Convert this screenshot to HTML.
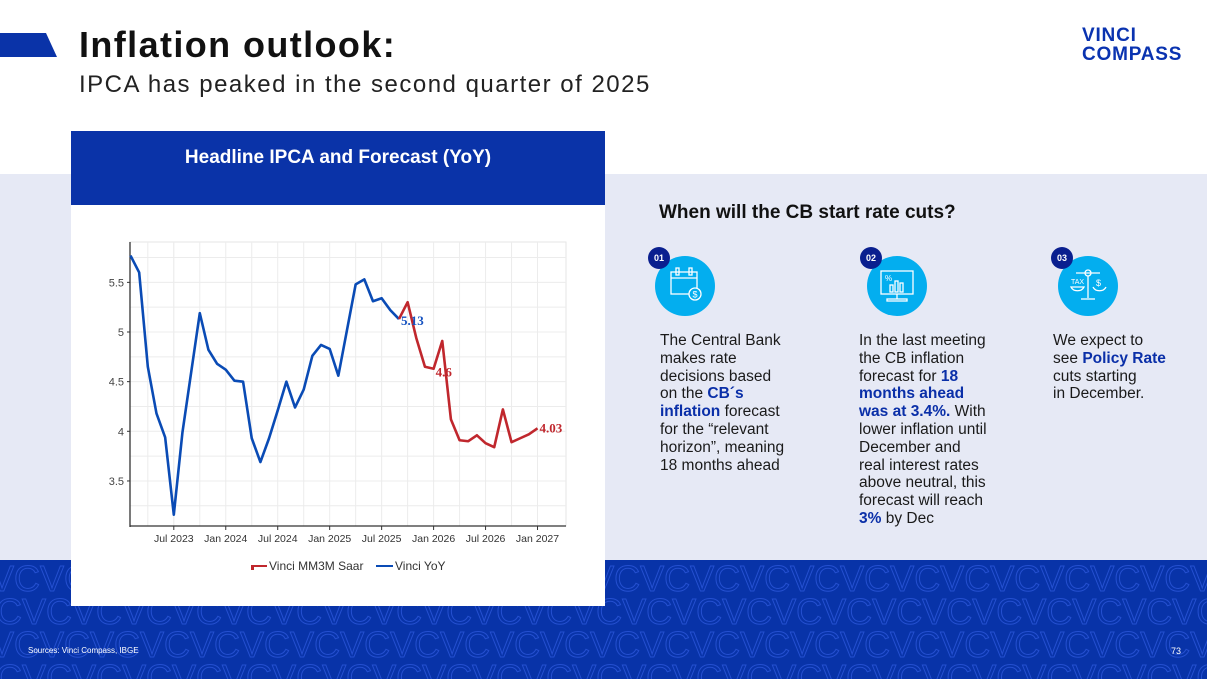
<!DOCTYPE html>
<html><head><meta charset="utf-8"><style>
*{margin:0;padding:0;box-sizing:border-box}
body{width:1207px;height:679px;position:relative;overflow:hidden;background:#fff;font-family:"Liberation Sans",sans-serif}
.abs{position:absolute}
.txt{font-size:15.5px;line-height:17.8px;color:#1a1a1a;white-space:nowrap}
.txt b{color:#0a2fa8}
.badge{position:absolute;width:22px;height:22px;border-radius:50%;background:#0a1f8f;color:#fff;font-size:9px;font-weight:bold;text-align:center;line-height:22px}
.circ{position:absolute;width:60px;height:60px;border-radius:50%;background:#03aeef}
</style></head><body>
<div class="abs" style="left:0;top:33px;width:57px;height:24px;background:#0a33a8;clip-path:polygon(0 0,46px 0,57px 24px,0 24px)"></div>
<div class="abs" style="left:79px;top:24px;font-size:36px;font-weight:bold;color:#111;letter-spacing:1.4px">Inflation outlook:</div>
<div class="abs" style="left:79px;top:71px;font-size:24px;color:#222;letter-spacing:1.5px">IPCA has peaked in the second quarter of 2025</div>
<div class="abs" style="left:1082px;top:26px;font-size:19px;font-weight:bold;color:#0a33b0;line-height:19px;letter-spacing:0.8px">VINCI<br>COMPASS</div>
<div class="abs" style="left:0;top:174px;width:1207px;height:386px;background:#e6e9f5"></div>
<svg class="abs" style="left:0;top:560px" width="1207" height="119">
<rect width="1207" height="119" fill="#0833a8"/>
<g fill="none" stroke="#2550d0" stroke-width="1" font-size="36" font-family="Liberation Sans">
<text x="-10" y="31">VCVCVCVCVCVCVCVCVCVCVCVCVCVCVCVCVCVCVCVCVCVCVCVCVCVCVC</text>
<text x="-28" y="64">VCVCVCVCVCVCVCVCVCVCVCVCVCVCVCVCVCVCVCVCVCVCVCVCVCVCVC</text>
<text x="-10" y="97">VCVCVCVCVCVCVCVCVCVCVCVCVCVCVCVCVCVCVCVCVCVCVCVCVCVCVC</text>
<text x="-28" y="130">VCVCVCVCVCVCVCVCVCVCVCVCVCVCVCVCVCVCVCVCVCVCVCVCVCVCVC</text>
</g></svg>
<div class="abs" style="left:28px;top:646px;font-size:8px;color:#fff">Sources: Vinci Compass, IBGE</div>
<div class="abs" style="left:1171px;top:646px;font-size:9px;color:#fff">73</div>

<div class="abs" style="left:71px;top:131px;width:534px;height:475px;background:#fff"></div>
<div class="abs" style="left:71px;top:131px;width:534px;height:74px;background:#0a33a8;color:#fff;font-size:19px;font-weight:bold;text-align:center;padding-top:16px">Headline IPCA and Forecast (YoY)</div>
<svg id="chart" class="abs" style="left:71px;top:205px" width="534" height="401"></svg>

<div class="abs" style="left:659px;top:202px;font-size:19px;font-weight:bold;color:#111">When will the CB start rate cuts?</div>
<div class="circ" style="left:655px;top:256px"><svg width="60" height="60" fill="none" stroke="#fff" stroke-width="1.3"><rect x="16" y="16" width="26" height="22"/><line x1="16" y1="22" x2="42" y2="22"/><rect x="21" y="12" width="3" height="7"/><rect x="34" y="12" width="3" height="7"/><circle cx="40" cy="38" r="6" fill="#03aeef"/><text x="37.5" y="41.5" font-size="9" fill="#fff" stroke="none">$</text></svg></div>
<div class="circ" style="left:867px;top:256px"><svg width="60" height="60" fill="none" stroke="#fff" stroke-width="1.3"><rect x="14" y="15" width="32" height="23"/><line x1="30" y1="38" x2="30" y2="43"/><rect x="20" y="43" width="20" height="2"/><text x="18" y="25" font-size="8" fill="#fff" stroke="none">%</text><rect x="23" y="29" width="3" height="7"/><rect x="28" y="25" width="3" height="11"/><rect x="33" y="27" width="3" height="9"/></svg></div>
<div class="circ" style="left:1058px;top:256px"><svg width="60" height="60" fill="none" stroke="#fff" stroke-width="1.3"><line x1="18" y1="17" x2="42" y2="17"/><circle cx="30" cy="17" r="3"/><line x1="30" y1="20" x2="30" y2="42"/><line x1="23" y1="43" x2="37" y2="43"/><path d="M13 31 a7 6 0 0 0 13 0 z"/><path d="M35 31 a7 6 0 0 0 13 0"/><text x="13" y="28" font-size="7" fill="#fff" stroke="none">TAX</text><text x="38" y="30" font-size="9" fill="#fff" stroke="none">$</text></svg></div>
<div class="badge" style="left:648px;top:247px">01</div>
<div class="badge" style="left:860px;top:247px">02</div>
<div class="badge" style="left:1051px;top:247px">03</div>
<div class="abs txt" style="left:660px;top:332px">The Central Bank<br>makes rate<br>decisions based<br>on the <b>CB´s</b><br><b>inflation</b> forecast<br>for the “relevant<br>horizon”, meaning<br>18 months ahead</div>
<div class="abs txt" style="left:859px;top:332px">In the last meeting<br>the CB inflation<br>forecast for <b>18</b><br><b>months ahead</b><br><b>was at 3.4%.</b> With<br>lower inflation until<br>December and<br>real interest rates<br>above neutral, this<br>forecast will reach<br><b>3%</b> by Dec</div>
<div class="abs txt" style="left:1053px;top:332px">We expect to<br>see <b>Policy Rate</b><br>cuts starting<br>in December.</div>

<script>
const yoyValues=[5.77,5.60,4.65,4.18,3.94,3.16,3.99,4.59,5.19,4.82,4.68,4.62,4.51,4.50,3.93,3.69,3.93,4.21,4.50,4.24,4.42,4.76,4.87,4.83,4.56,5.02,5.48,5.53,5.31,5.34,5.22,5.13];
const forecastValues=[5.13,5.30,4.94,4.65,4.63,4.91,4.12,3.91,3.90,3.96,3.88,3.84,4.22,3.89,3.93,3.97,4.03];
const forecastStart=31;
const yTicks=[3.5,4,4.5,5,5.5];
const xTickLabels=["Jul 2023","Jan 2024","Jul 2024","Jan 2025","Jul 2025","Jan 2026","Jul 2026","Jan 2027"];
const xTickIdx=[5,11,17,23,29,35,41,47];
const NS="http://www.w3.org/2000/svg";
const svg=document.getElementById('chart');
const X0=59.5,PX=8.66,Y5=127,PY=99.3;
const xs=i=>X0+i*PX, ys=v=>Y5-(v-5)*PY;
function mk(t,a,p){const e=document.createElementNS(NS,t);for(const k in a)e.setAttribute(k,a[k]);(p||svg).appendChild(e);return e;}
mk('rect',{x:59,y:37,width:436,height:284,fill:'#fff',stroke:'#e6e6e6'});
for(let v=3.25;v<=5.75;v+=0.25){const g=mk('line',{x1:59,x2:495,y1:ys(v),y2:ys(v),stroke:'#ececec','stroke-width':1});}
for(let k=-1;k<xTickIdx.length;k++){const i=k<0?2:xTickIdx[k];[i,i+3].forEach(j=>{if(j<50){const g=mk('line',{x1:xs(j),x2:xs(j),y1:37,y2:321,stroke:'#ececec'});}});}
mk('line',{x1:59,x2:59,y1:37,y2:322,stroke:'#333','stroke-width':1.3});
mk('line',{x1:59,x2:495,y1:321,y2:321,stroke:'#333','stroke-width':1.3});
yTicks.forEach(v=>{const t=mk('text',{x:53,y:ys(v)+4,'text-anchor':'end','font-size':11,fill:'#444'});t.textContent=v;mk('line',{x1:56,x2:59,y1:ys(v),y2:ys(v),stroke:'#333'});});
xTickLabels.forEach((l,k)=>{const x=xs(xTickIdx[k]);mk('line',{x1:x,x2:x,y1:321,y2:325,stroke:'#333'});const t=mk('text',{x:x,y:337,'text-anchor':'middle','font-size':10.5,fill:'#333'});t.textContent=l;});
const pb=mk('polyline',{points:yoyValues.map((v,i)=>xs(i)+','+ys(v)).join(' '),fill:'none',stroke:'#0a4bb5','stroke-width':2.6,'stroke-linejoin':'round'});

const pr=mk('polyline',{points:forecastValues.map((v,i)=>xs(forecastStart+i)+','+ys(v)).join(' '),fill:'none',stroke:'#c0272d','stroke-width':2.6,'stroke-linejoin':'round'});

function lab(i,v,txt,col,dx,dy){const t=mk('text',{x:xs(i)+dx,y:ys(v)+dy,'font-size':13,'font-weight':'bold','font-family':'Liberation Serif',fill:col});t.textContent=txt;}
lab(31,yoyValues[31],yoyValues[31].toFixed(2),'#1552c0',2,6);
lab(forecastStart+4,forecastValues[4],String(forecastValues[4].toFixed(1)),'#c0272d',2,8);
lab(forecastStart+16,forecastValues[16],forecastValues[16].toFixed(2),'#c0272d',2,4);
const lg=mk('g',{});
mk('line',{x1:180,x2:196,y1:361,y2:361,stroke:'#c0272d','stroke-width':2},lg);
mk('rect',{x:180,y:361,width:3,height:4,fill:'#c0272d'},lg);
let t1=mk('text',{x:198,y:365,'font-size':12,fill:'#333'},lg);t1.textContent='Vinci MM3M Saar';
mk('line',{x1:305,x2:322,y1:361,y2:361,stroke:'#0a4bb5','stroke-width':2},lg);
let t2=mk('text',{x:324,y:365,'font-size':12,fill:'#333'},lg);t2.textContent='Vinci YoY';
</script>
</body></html>
